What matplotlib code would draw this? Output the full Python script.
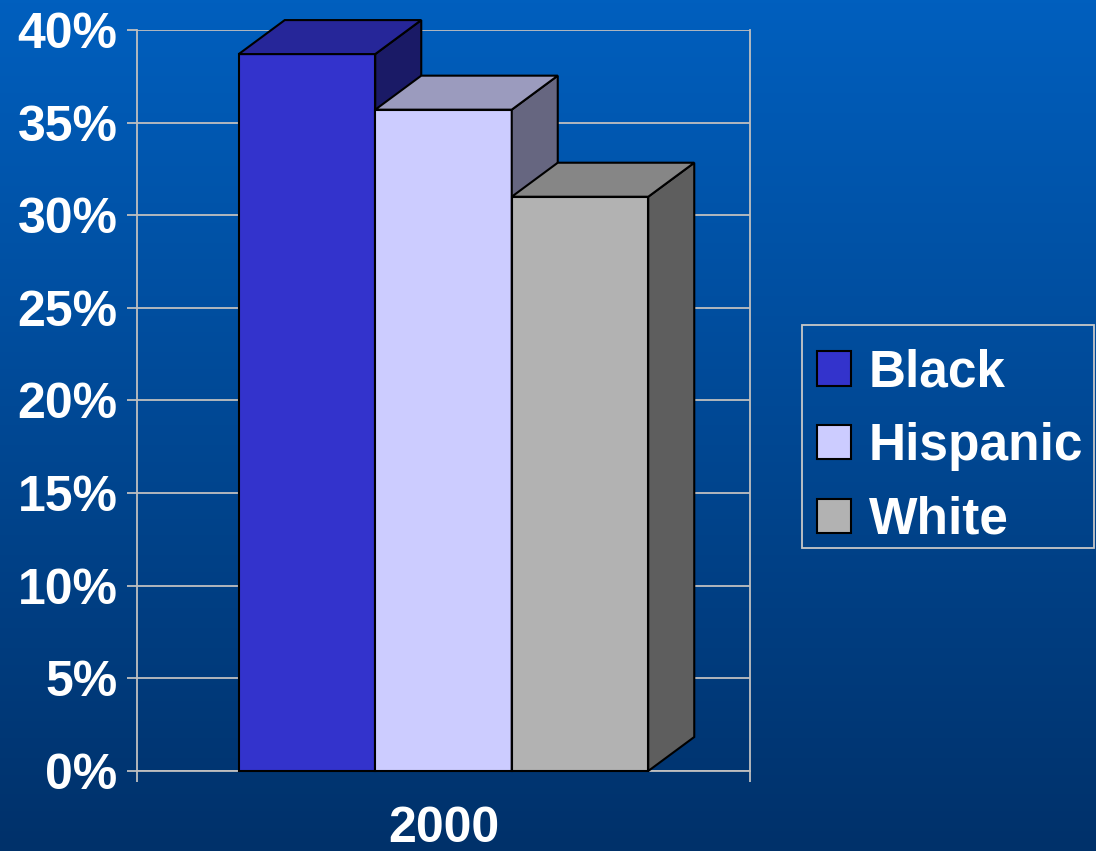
import numpy as np
import matplotlib
matplotlib.use("Agg")
import matplotlib.pyplot as plt
from matplotlib.patches import Polygon, Patch, Rectangle
from matplotlib.colors import LinearSegmentedColormap

# Data
categories = ["2000"]
series = ["Black", "Hispanic", "White"]
values = [38.7, 35.7, 31.0]
ytick_values = [0, 5, 10, 15, 20, 25, 30, 35, 40]
ytick_labels = [f"{v}%" for v in ytick_values]

# Face colours: front, top, right side
front_colors = ["#3333CC", "#CCCCFF", "#B2B2B2"]
top_colors = ["#262699", "#9B9BBE", "#868686"]
side_colors = ["#1A1A66", "#666680", "#5E5E5E"]

plt.rcParams["font.family"] = ["Liberation Sans", "DejaVu Sans"]
plt.rcParams["font.weight"] = "bold"

W, H = 1096, 851
fig = plt.figure(figsize=(W / 100, H / 100), dpi=100)

# Vertical gradient background
bg = fig.add_axes([0, 0, 1, 1], zorder=-10)
bg.axis("off")
grad = np.linspace(0, 1, 256).reshape(-1, 1)
cmap = LinearSegmentedColormap.from_list("bg", ["#005FBE", "#00316A"])
bg.imshow(grad, aspect="auto", cmap=cmap, extent=[0, 1, 0, 1])

ax = fig.add_axes([137 / W, 80 / H, 613 / W, 741 / H])
ax.patch.set_alpha(0)
ax.set_xlim(-0.5, 0.5)
ax.set_ylim(0, 40)

grid_col = "#C0C0C0"
for s in ["left", "bottom", "right"]:
    ax.spines[s].set_color(grid_col)
    ax.spines[s].set_linewidth(1.3)
ax.spines["top"].set_visible(False)

ax.set_yticks(ytick_values)
ax.set_yticklabels(ytick_labels)
ax.tick_params(axis="y", colors=grid_col, labelcolor="white", labelsize=36,
               length=7, width=1.3, pad=7)
ax.yaxis.grid(True, color=grid_col, linewidth=1.3, zorder=0)
ax.set_axisbelow(True)

ax.set_xticks([0])
ax.set_xticklabels(categories)
ax.set_xticks([-0.5, 0.5], minor=True)
ax.tick_params(axis="x", which="major", length=0, labelcolor="white",
               labelsize=36, pad=25)
ax.tick_params(axis="x", which="minor", length=8, width=1.3, color=grid_col)

# 3D-style columns
n = len(series)
w = 136.5 / 613
dx = 46 / 613
dy = 34 / (741 / 40)
positions = [(i - (n - 1) / 2) * w for i in range(n)]

for i, (pos, v) in enumerate(zip(positions, values)):
    z = 3 + i
    x0, x1 = pos - w / 2, pos + w / 2
    ax.bar(pos, v, w, color=front_colors[i], edgecolor="black",
           linewidth=1.5, zorder=z, clip_on=False)
    top = Polygon([(x0, v), (x0 + dx, v + dy), (x1 + dx, v + dy), (x1, v)],
                  closed=True, facecolor=top_colors[i], edgecolor="black",
                  linewidth=1.5, zorder=z, clip_on=False)
    side = Polygon([(x1, 0), (x1 + dx, dy), (x1 + dx, v + dy), (x1, v)],
                   closed=True, facecolor=side_colors[i], edgecolor="black",
                   linewidth=1.5, zorder=z, clip_on=False)
    ax.add_patch(side)
    ax.add_patch(top)

# Legend box
fig.patches.append(Rectangle((802 / W, 1 - 548 / H), 292 / W, 223 / H,
                             transform=fig.transFigure, facecolor="none",
                             edgecolor="#C8C8C8", linewidth=1.3))

handles = [Patch(facecolor=c, edgecolor="black", linewidth=1.5) for c in front_colors]
leg = fig.legend(handles, series, loc="upper left",
                 bbox_to_anchor=(802 / W, 1 - 333 / H), borderaxespad=0,
                 fontsize=37, handlelength=0.65, handleheight=0.65,
                 handletextpad=0.35, labelspacing=0.48, borderpad=0.3,
                 frameon=False, labelcolor="white")

fig.savefig("out.png", dpi=100)
